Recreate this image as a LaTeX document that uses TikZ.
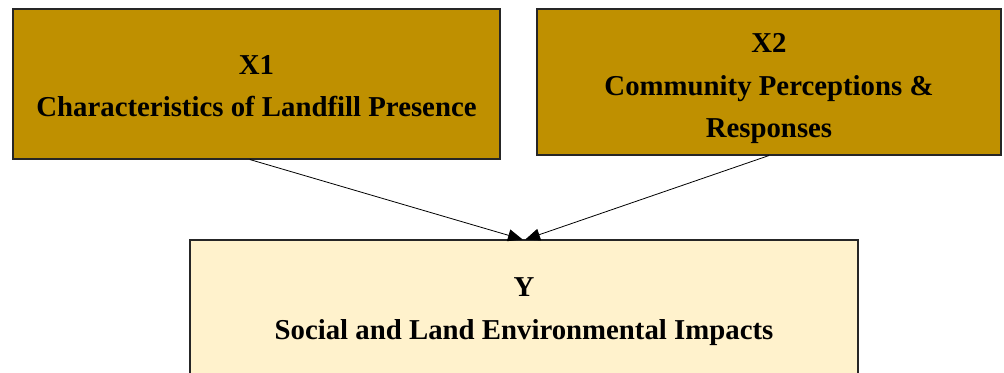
\documentclass[tikz,border=0pt]{standalone}
\usepackage{fontspec}
\setmainfont{Liberation Serif}
\usepackage{xcolor}
\usetikzlibrary{arrows.meta}

\definecolor{darkgold}{HTML}{BF9000}
\definecolor{lightgold}{HTML}{FFF2CC}

\begin{document}
\begin{tikzpicture}[x=0.75pt,y=0.75pt,yscale=-1,xscale=1,
  varbox/.style={draw=black!85, line width=0.8pt, inner sep=0pt},
  vartext/.style={align=center, inner sep=0pt,
    font=\fontsize{21.6}{32}\selectfont\bfseries},
  link/.style={-{Triangle[length=11pt,width=9pt]}, line width=0.6pt}]
\useasboundingbox (0,0) rectangle (1004,372);

%Shape: Rectangle [X1]
\node (x1) [varbox, fill=darkgold, minimum width=365.25pt, minimum height=112.5pt] at (256.5,84) {};
%Shape: Rectangle [X2]
\node (x2) [varbox, fill=darkgold, minimum width=348pt, minimum height=109.5pt] at (769,82) {};
%Shape: Rectangle [Y]
\node (y) [varbox, fill=lightgold, minimum width=501pt, minimum height=102pt] at (524,308) {};

% Text Node
\node (x1txt) [vartext] at ([yshift=1.5pt]x1.center) {X1\\Characteristics of Landfill Presence};
% Text Node
\node (x2txt) [vartext] at ([yshift=5pt]x2.center) {X2\\Community Perceptions \&\\Responses};
% Text Node
\node (ytxt) [vartext] at ([yshift=2.5pt]y.center) {Y\\Social and Land Environmental Impacts};

% Arrows
\draw [link] ([xshift=-5pt]x1.south) -- ([xshift=-1pt]y.north);
\draw [link] (x2.south) -- ([xshift=1pt]y.north);
\end{tikzpicture}
\end{document}
